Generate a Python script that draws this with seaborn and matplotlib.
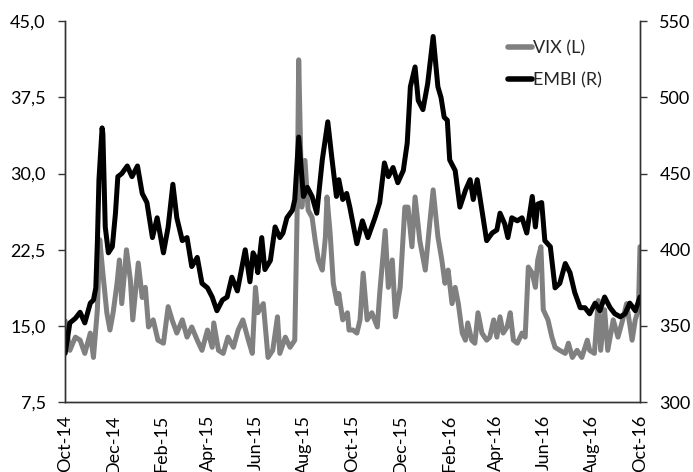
import numpy as np
import pandas as pd
import matplotlib
matplotlib.use("Agg")
import matplotlib.pyplot as plt
import matplotlib.dates as mdates
from matplotlib.ticker import FuncFormatter
from matplotlib.lines import Line2D
import seaborn as sns

# Readings taken off the reference chart, as days after 1 Oct 2014
START = pd.Timestamp("2014-10-01")

vix_day = [0, 6, 13, 19, 25, 32, 36, 41, 44, 48, 53, 57, 61, 66, 69, 72, 78, 83, 86, 93,
           98, 102, 106, 112, 118, 125, 131, 136, 142, 149, 155, 161, 168, 174, 181, 187,
           189, 195, 201, 207, 214, 220, 226, 233, 238, 242, 245, 252, 258, 264, 270, 273,
           280, 286, 292, 295, 297, 301, 305, 309, 314, 318, 322, 327, 331, 333, 337, 341,
           346, 348, 353, 359, 361, 366, 371, 375, 379, 384, 390, 397, 400, 407, 411, 416,
           420, 426, 432, 436, 441, 445, 451, 458, 464, 468, 474, 479, 483, 487, 492, 496,
           500, 505, 509, 512, 517, 521, 525, 530, 536, 540, 545, 549, 553, 557, 562, 566,
           570, 575, 581, 585, 589, 594, 598, 601, 605, 608, 614, 619, 623, 629, 636, 640,
           645, 651, 657, 664, 667, 673, 678, 681, 686, 690, 697, 703, 709, 714, 721, 725,
           729, 731]
vix_val = [15.5, 12.6, 13.9, 13.6, 12.3, 14.3, 11.9, 16.6, 23.5, 20.2, 16.3, 14.6, 16.3, 19.2,
           21.5, 17.2, 22.5, 19.5, 15.6, 21.2, 17.8, 18.8, 14.9, 15.6, 13.6, 13.3, 16.9, 15.6,
           14.3, 15.6, 13.9, 14.9, 13.6, 12.6, 14.6, 12.9, 15.3, 12.6, 12.3, 13.9, 12.9, 14.6,
           15.6, 13.6, 12.3, 18.8, 16.3, 17.2, 11.9, 12.6, 15.9, 12.3, 13.9, 12.9, 13.6, 26.1,
           41.2, 26.7, 31.3, 26.4, 25.7, 23.4, 21.5, 20.5, 23.8, 27.7, 24.1, 19.2, 17.2, 18.2,
           15.6, 16.3, 14.6, 14.6, 14.3, 15.6, 20.2, 15.6, 16.3, 14.9, 18.2, 24.4, 18.8, 21.5,
           15.9, 18.8, 26.7, 26.7, 22.8, 27.7, 23.4, 20.5, 25.4, 28.4, 23.8, 21.5, 19.2, 20.5,
           17.2, 18.8, 17.2, 14.3, 13.6, 15.3, 13.6, 13.3, 16.3, 14.3, 13.6, 13.9, 15.6, 13.9,
           15.9, 14.3, 14.9, 16.3, 13.6, 13.3, 14.3, 13.9, 20.8, 20.2, 18.8, 21.5, 22.8, 16.6,
           15.6, 13.9, 12.9, 12.6, 12.3, 13.3, 11.9, 12.6, 11.9, 13.6, 12.6, 12.3, 17.5, 12.6,
           16.6, 12.6, 15.6, 13.9, 15.6, 17.2, 13.6, 15.6, 16.6, 22.8]

embi_day = [0, 6, 13, 19, 25, 32, 36, 39, 41, 43, 47, 48, 51, 55, 60, 64, 67, 72, 79, 85,
            92, 98, 104, 111, 117, 125, 131, 137, 142, 149, 155, 161, 168, 174, 181, 187,
            193, 200, 206, 212, 219, 225, 229, 235, 239, 242, 245, 250, 254, 261, 267, 273,
            277, 282, 289, 292, 297, 303, 308, 314, 320, 327, 334, 339, 345, 348, 353, 358,
            362, 371, 378, 385, 394, 400, 406, 411, 417, 423, 430, 435, 439, 445, 449, 455,
            461, 468, 474, 478, 482, 486, 489, 496, 502, 509, 515, 519, 524, 530, 536, 543,
            549, 553, 559, 563, 568, 575, 581, 587, 594, 598, 601, 606, 610, 617, 623, 629,
            636, 642, 648, 655, 661, 667, 674, 680, 686, 693, 699, 706, 712, 718, 725, 731]
embi_val = [332, 352, 355, 359, 352, 365, 367, 375, 405, 446, 480, 476, 415, 398, 402, 424,
            448, 450, 455, 448, 455, 437, 431, 408, 421, 398, 415, 443, 421, 406, 408, 389,
            395, 378, 375, 369, 360, 367, 369, 382, 373, 389, 400, 379, 398, 395, 385, 408,
            387, 393, 415, 408, 411, 421, 426, 433, 474, 435, 441, 435, 424, 459, 484, 461,
            435, 446, 433, 437, 428, 404, 419, 408, 421, 431, 457, 448, 454, 444, 452, 470,
            507, 520, 498, 492, 509, 540, 507, 500, 487, 485, 459, 452, 428, 439, 446, 433,
            446, 426, 406, 411, 413, 424, 417, 408, 421, 419, 421, 411, 435, 415, 430, 431,
            406, 402, 375, 378, 391, 385, 372, 362, 362, 358, 365, 360, 369, 362, 358, 356,
            358, 365, 360, 369]

vix = pd.DataFrame({"date": START + pd.to_timedelta(vix_day, unit="D"), "value": vix_val})
embi = pd.DataFrame({"date": START + pd.to_timedelta(embi_day, unit="D"), "value": embi_val})

sns.set_style("white")
plt.rcParams["font.family"] = ["Lato", "DejaVu Sans"]
plt.rcParams["font.size"] = 13

fig = plt.figure(figsize=(6.93, 4.72), dpi=100)
ax = fig.add_axes([0.094, 0.148, 0.8295, 0.807])
ax2 = ax.twinx()

sns.lineplot(data=vix, x="date", y="value", ax=ax, color="#808080", lw=3.6)
sns.lineplot(data=embi, x="date", y="value", ax=ax2, color="black", lw=3.6)

ax.set_xlim(START, pd.Timestamp("2016-10-01"))
ax.set_ylim(7.5, 45)
ax2.set_ylim(300, 550)
ax.set_yticks(np.arange(7.5, 45.1, 7.5))
ax2.set_yticks(np.arange(300, 551, 50))
ax.yaxis.set_major_formatter(FuncFormatter(lambda v, p: f"{v:.1f}".replace(".", ",")))

ax.xaxis.set_major_locator(mdates.MonthLocator(bymonth=[2, 4, 6, 8, 10, 12]))
ax.xaxis.set_major_formatter(mdates.DateFormatter("%b-%y"))
for lab in ax.get_xticklabels():
    lab.set_rotation(90)
    lab.set_va("top")
    lab.set_ha("center")

for a in (ax, ax2):
    a.set_xlabel("")
    a.set_ylabel("")
    a.spines["top"].set_visible(False)
    for s in a.spines.values():
        s.set_color("#333333")
        s.set_linewidth(1.0)
    a.tick_params(direction="out", length=5, width=1, color="#333333", labelcolor="black")
ax.tick_params(axis="y", pad=9)
ax2.tick_params(axis="y", pad=9)
ax.tick_params(axis="x", pad=4)

handles = [Line2D([], [], color="#808080", lw=4), Line2D([], [], color="black", lw=4)]
ax2.legend(handles, ["VIX (L)", "EMBI (R)"], loc="upper left", bbox_to_anchor=(0.758, 0.968),
           frameon=False, handlelength=1.3, handletextpad=0.1, labelspacing=0.85,
           borderaxespad=0, fontsize=13)

fig.savefig("out.png", dpi=100)
